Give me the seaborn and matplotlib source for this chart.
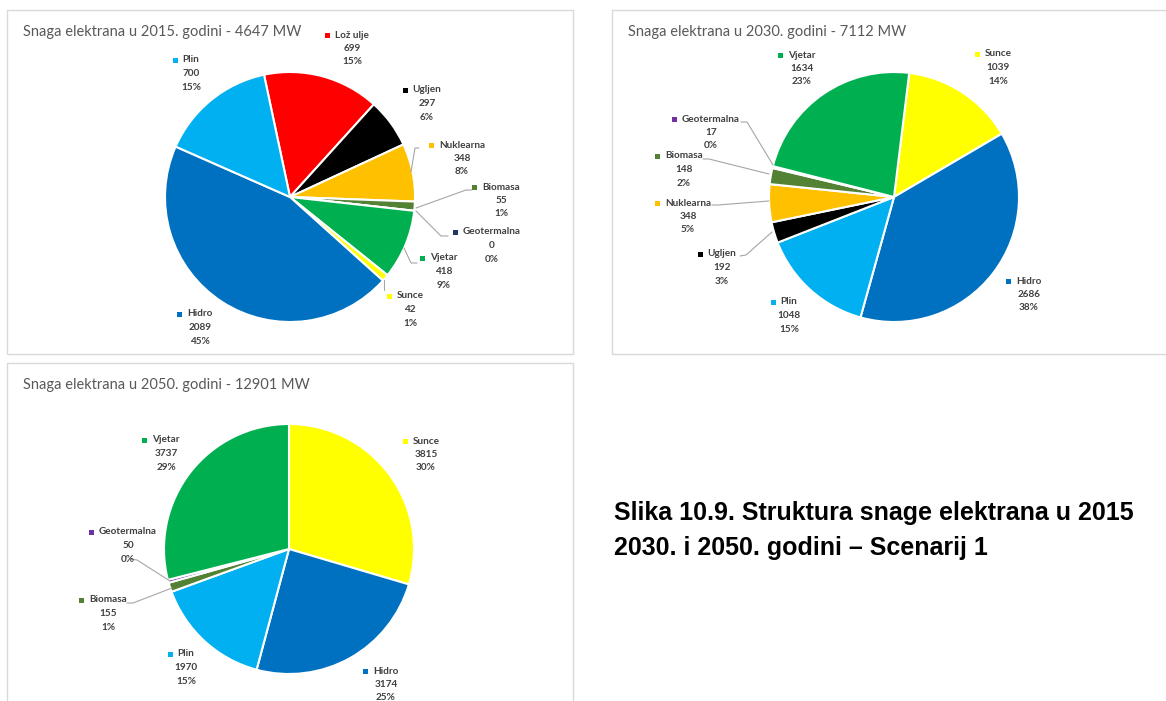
import matplotlib
matplotlib.use("Agg")
import matplotlib.pyplot as plt
import seaborn as sns
from matplotlib.patches import Rectangle

sns.set_theme(style="white")
plt.rcParams["font.family"] = ["Lato", "DejaVu Sans"]

W, H = 1166, 701

# --- data (clockwise order, as in the source charts) ---
names_2015 = ["Lož ulje", "Ugljen", "Nuklearna", "Biomasa", "Geotermalna",
              "Vjetar", "Sunce", "Hidro", "Plin"]
mw_2015 = [699, 297, 348, 55, 0, 418, 42, 2089, 700]
pct_2015 = ["15%", "6%", "8%", "1%", "0%", "9%", "1%", "45%", "15%"]

names_2030 = ["Sunce", "Hidro", "Plin", "Ugljen", "Nuklearna", "Biomasa",
              "Geotermalna", "Vjetar"]
mw_2030 = [1039, 2686, 1048, 192, 348, 148, 17, 1634]
pct_2030 = ["14%", "38%", "15%", "3%", "5%", "2%", "0%", "23%"]

names_2050 = ["Sunce", "Hidro", "Plin", "Biomasa", "Geotermalna", "Vjetar"]
mw_2050 = [3815, 3174, 1970, 155, 50, 3737]
pct_2050 = ["30%", "25%", "15%", "1%", "0%", "29%"]

titles = ["Snaga elektrana u 2015. godini - 4647 MW",
          "Snaga elektrana u 2030. godini - 7112 MW",
          "Snaga elektrana u 2050. godini - 12901 MW"]

caption = ["Slika 10.9. Struktura snage elektrana u 2015",
           "2030. i 2050. godini \u2013 Scenarij 1"]

colors = {"Lož ulje": "#FF0000", "Ugljen": "#000000", "Nuklearna": "#FFC000",
          "Biomasa": "#548235", "Geotermalna": "#7030A0", "Vjetar": "#00B050",
          "Sunce": "#FFFF00", "Hidro": "#0070C0", "Plin": "#00B0F0"}

# --- layout (pixel coordinates, y measured from top) ---
panels = [
    dict(names=names_2015, mw=mw_2015, pct=pct_2015, box=(7, 10, 566, 344),
         center=(290, 197), start=102, key_override={"Geotermalna": "#203864"},
         labels={"Lož ulje": (352, 35), "Ugljen": (427, 90), "Nuklearna": (462, 145),
                 "Biomasa": (501, 187), "Geotermalna": (492, 232), "Vjetar": (444, 258),
                 "Sunce": (410, 296), "Hidro": (200, 314), "Plin": (191, 60)},
         leaders=[[(419, 148), (415, 148), (411, 172)],
                  [(472, 190), (466, 190), (416, 208)],
                  [(448, 236), (441, 236), (416, 211)],
                  [(417, 263), (411, 263), (404, 248)],
                  [(384, 290), (384, 280)]]),
    dict(names=names_2030, mw=mw_2030, pct=pct_2030, box=(612, 10, 566, 344),
         center=(894, 197), start=83, key_override={},
         labels={"Sunce": (998, 54), "Hidro": (1029, 281), "Plin": (789, 302),
                 "Ugljen": (722, 254), "Nuklearna": (688, 203), "Biomasa": (684, 156),
                 "Geotermalna": (711, 119), "Vjetar": (802, 55)},
         leaders=[[(741, 122), (747, 122), (773, 165)],
                  [(703, 159), (709, 159), (769, 174)],
                  [(712, 205), (718, 205), (769, 201)],
                  [(740, 256), (746, 255), (772, 232)]]),
    dict(names=names_2050, mw=mw_2050, pct=pct_2050, box=(7, 363, 566, 344),
         center=(289, 549), start=90, key_override={},
         labels={"Sunce": (426, 441), "Hidro": (386, 671), "Plin": (186, 654),
                 "Biomasa": (108, 600), "Geotermalna": (128, 532), "Vjetar": (166, 440)},
         leaders=[[(131, 559), (137, 560), (170, 581)],
                  [(127, 603), (133, 603), (172, 588)]]),
]

R = 125
LINE = 13.5
label_color = "#404040"

fig = plt.figure(figsize=(W / 100, H / 100), dpi=100)
ax = fig.add_axes([0, 0, 1, 1])


def Y(y):
    return H - y


for i, p in enumerate(panels):
    bx, by, bw, bh = p["box"]
    ax.add_patch(Rectangle((bx, Y(by + bh)), bw, bh, facecolor="white",
                           edgecolor="#D9D9D9", lw=1, zorder=0))
    ax.text(bx + 16, Y(by + 22), titles[i], fontsize=10.5, color="#595959",
            ha="left", va="center", zorder=5)
    cx, cy = p["center"]
    ax.pie(p["mw"], colors=[colors[n] for n in p["names"]], radius=R,
           center=(cx, Y(cy)), startangle=p["start"], counterclock=False,
           wedgeprops=dict(edgecolor="white", linewidth=1.5), frame=True)
    for line in p["leaders"]:
        xs = [pt[0] for pt in line]
        ys = [Y(pt[1]) for pt in line]
        ax.plot(xs, ys, color="#A6A6A6", lw=0.8, zorder=3)

ax.set_xlim(0, W)
ax.set_ylim(0, H)
ax.set_aspect("equal")
ax.axis("off")

renderer = fig.canvas.get_renderer()
for p in panels:
    for name, v, pc in zip(p["names"], p["mw"], p["pct"]):
        lx, ly = p["labels"][name]
        t = ax.text(lx, Y(ly), name, fontsize=7.2, fontweight="bold",
                    color=label_color, ha="center", va="center", zorder=6)
        ax.text(lx, Y(ly + LINE), str(v), fontsize=7.2, fontweight="bold",
                color=label_color, ha="center", va="center", zorder=6)
        ax.text(lx, Y(ly + 2 * LINE), pc, fontsize=7.2, fontweight="bold",
                color=label_color, ha="center", va="center", zorder=6)
        bb = t.get_window_extent(renderer=renderer)
        kc = p["key_override"].get(name, colors[name])
        ax.add_patch(Rectangle((bb.x0 - 10, Y(ly) - 2.5), 5, 5,
                               facecolor=kc, edgecolor="none", zorder=6))

for k, line in enumerate(caption):
    ax.text(614, Y(513 + 35 * k), line, fontsize=18, fontweight="bold",
            family=["Liberation Sans", "DejaVu Sans"], color="black",
            ha="left", va="center")

fig.savefig("out.png", dpi=100)
